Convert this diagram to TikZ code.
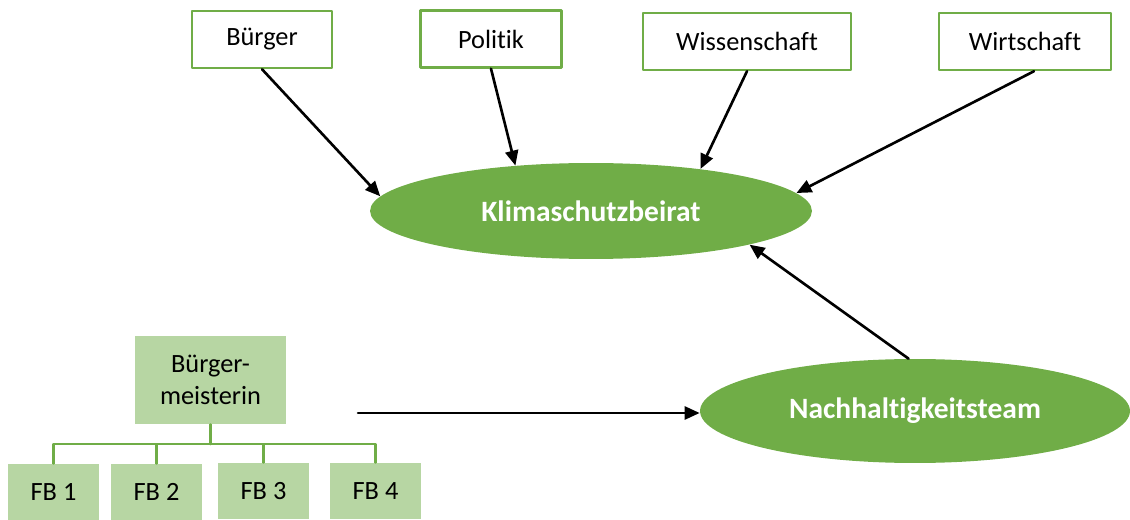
\documentclass[tikz,border=0pt]{standalone}
\usepackage{fontspec}
\setmainfont{Carlito}[Ligatures=NoCommon]
\usetikzlibrary{arrows.meta,shapes.geometric}
\definecolor{officegreen}{RGB}{112,173,71}
\definecolor{lightgreen}{RGB}{183,214,163}

\begin{document}
\begin{tikzpicture}[x=0.02cm,y=-0.02cm,line cap=round,line join=round,
  font=\fontsize{15}{18}\selectfont,
  groupbox/.style={draw=officegreen,line width=1.4pt,fill=white,inner sep=0pt,minimum height=1.14cm},
  bodyell/.style={ellipse,fill=officegreen,text=white,inner sep=0pt,
    font=\fontsize{16.8}{18}\selectfont\bfseries},
  orgbox/.style={fill=lightgreen,inner sep=0pt,minimum width=1.82cm,minimum height=1.12cm},
  orgline/.style={draw=officegreen,line width=1.2pt},
  flow/.style={-{Triangle[length=0.3cm,width=0.26cm]},line width=1.5pt}]
  \useasboundingbox (0,0) rectangle (1130,520);

  % Stakeholder boxes along the top
  \node[groupbox,minimum width=2.8cm]  (buerger) at (262,39.5)  {Bürger};
  \node[groupbox,minimum width=2.82cm] (politik) at (491,39)    {Politik};
  \node[groupbox,minimum width=4.16cm] (wissen)  at (747,41.5)  {Wissenschaft};
  \node[groupbox,minimum width=3.44cm] (wirt)    at (1025,41.5) {Wirtschaft};

  % The two bodies
  \node[bodyell,minimum width=8.84cm,minimum height=1.92cm] (klima) at (591,211) {Klimaschutzbeirat};
  \node[bodyell,minimum width=8.6cm,minimum height=2.08cm]  (nach)  at (915,411) {Nachhaltigkeitsteam};

  % Town hall: mayor and departments
  \node[orgbox,minimum width=3.02cm,minimum height=1.76cm,align=center] (bgm) at (210.5,380) {Bürger-\\meisterin};
  \node[orgbox] (fb1) at (53.5,492)  {FB 1};
  \node[orgbox] (fb2) at (156.5,492) {FB 2};
  \node[orgbox] (fb3) at (263.5,491) {FB 3};
  \node[orgbox] (fb4) at (375.5,491) {FB 4};

  \draw[orgline] (bgm.south) -- ++(0,20) coordinate (bar);
  \foreach \i in {1,...,4}{
    \draw[orgline] (bar) -| (fb\i.north);
  }

  % Arrows into the Klimaschutzbeirat
  \draw[flow] (buerger.south) -- (klima.176);
  \draw[flow] (politik.south) -- (klima.149);
  \draw[flow] (wissen.south)  -- (klima.21);
  \draw[flow] ([xshift=0.18cm]wirt.south) -- (klima.5);
  \draw[flow] (nach.97) -- (klima.348);

  % Town hall feeds the team
  \coordinate (hallout) at (358,413);
  \draw[flow] (hallout) -- (hallout -| nach.west);
\end{tikzpicture}
\end{document}
